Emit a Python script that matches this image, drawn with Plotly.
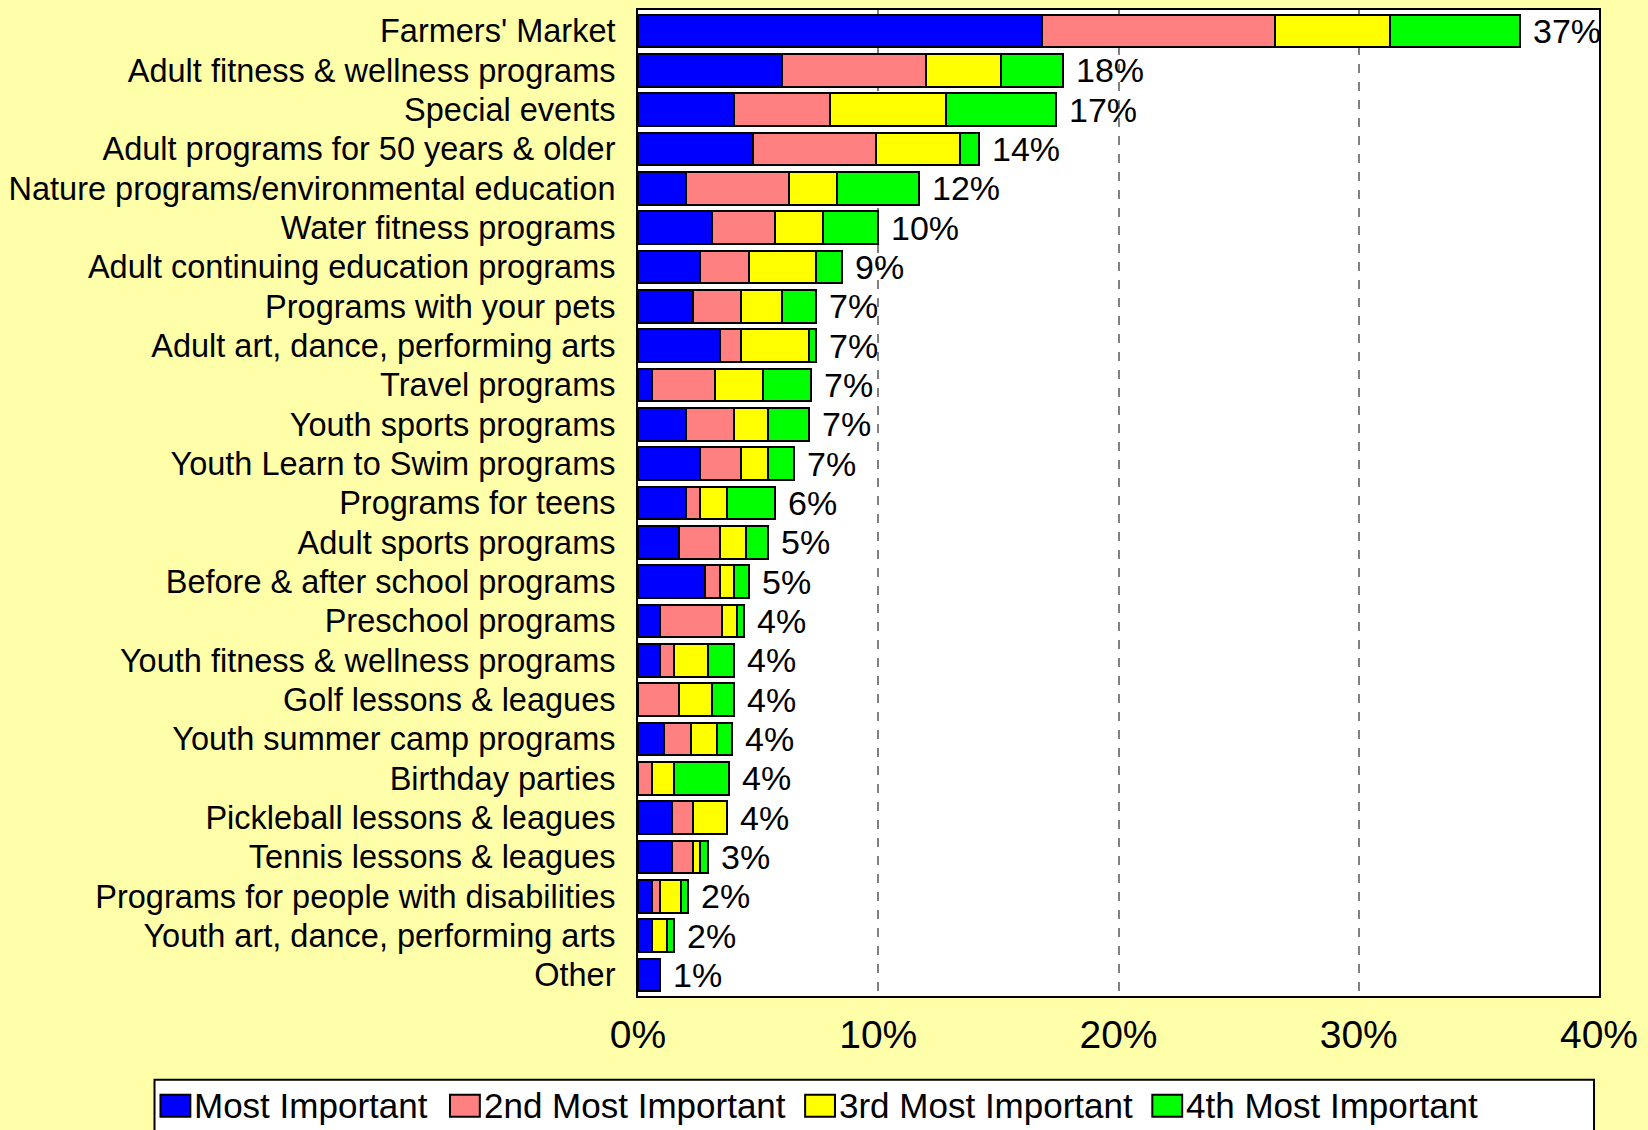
import plotly.graph_objects as go

categories = [
    "Farmers' Market", "Adult fitness & wellness programs", "Special events",
    "Adult programs for 50 years & older", "Nature programs/environmental education",
    "Water fitness programs", "Adult continuing education programs",
    "Programs with your pets", "Adult art, dance, performing arts", "Travel programs",
    "Youth sports programs", "Youth Learn to Swim programs", "Programs for teens",
    "Adult sports programs", "Before & after school programs", "Preschool programs",
    "Youth fitness & wellness programs", "Golf lessons & leagues",
    "Youth summer camp programs", "Birthday parties", "Pickleball lessons & leagues",
    "Tennis lessons & leagues", "Programs for people with disabilities",
    "Youth art, dance, performing arts", "Other",
]
most_important = [16.8, 6.0, 4.0, 4.8, 2.0, 3.1, 2.6, 2.3, 3.4, 0.6, 2.0, 2.6, 2.0,
                  1.7, 2.8, 0.9, 0.9, 0.0, 1.1, 0.0, 1.4, 1.4, 0.6, 0.6, 0.9]
second_most = [9.7, 6.0, 4.0, 5.1, 4.3, 2.6, 2.0, 2.0, 0.9, 2.6, 2.0, 1.7, 0.6,
               1.7, 0.6, 2.6, 0.6, 1.7, 1.1, 0.6, 0.9, 0.9, 0.3, 0.0, 0.0]
third_most = [4.8, 3.1, 4.8, 3.5, 2.0, 2.0, 2.8, 1.7, 2.8, 2.0, 1.4, 1.1, 1.1,
              1.1, 0.6, 0.6, 1.4, 1.4, 1.1, 0.9, 1.4, 0.3, 0.9, 0.6, 0.0]
fourth_most = [5.4, 2.6, 4.6, 0.8, 3.4, 2.3, 1.1, 1.4, 0.3, 2.0, 1.7, 1.1, 2.0,
               0.9, 0.6, 0.3, 1.1, 0.9, 0.6, 2.3, 0.0, 0.3, 0.3, 0.3, 0.0]
total_labels = ["37%", "18%", "17%", "14%", "12%", "10%", "9%", "7%", "7%", "7%",
                "7%", "7%", "6%", "5%", "5%", "4%", "4%", "4%", "4%", "4%", "4%",
                "3%", "2%", "2%", "1%"]
series_names = ["Most Important", "2nd Most Important", "3rd Most Important",
                "4th Most Important"]
tick_values = [0, 10, 20, 30, 40]
tick_labels = ["0%", "10%", "20%", "30%", "40%"]

series_values = [most_important, second_most, third_most, fourth_most]
colors = ["#0000FF", "#FF8080", "#FFFF00", "#00FF00"]
FONT = "Arial, Liberation Sans, sans-serif"

W, H = 1648, 1130
L, R, T, B = 633, 49, 8, 134
PW, PH = W - L - R, H - T - B


def px_x(px):
    return (px - L) / PW


def px_y(py):
    return (H - B - py) / PH


fig = go.Figure()
for name, vals, col in zip(series_names, series_values, colors):
    fig.add_trace(go.Bar(
        y=categories, x=vals, name=name, orientation="h",
        marker=dict(color=col, line=dict(color="black", width=2)),
        showlegend=False,
    ))

totals = [sum(v) for v in zip(*series_values)]
annotations = []
for cat, tot, lab in zip(categories, totals, total_labels):
    annotations.append(dict(
        x=tot, y=cat, xref="x", yref="y", text=lab, showarrow=False,
        xanchor="left", yanchor="middle", xshift=11,
        font=dict(family=FONT, size=34, color="black"),
    ))

# manual legend
shapes = [dict(
    type="rect", xref="paper", yref="paper",
    x0=px_x(147), x1=px_x(1594), y0=px_y(1140), y1=px_y(1080),
    fillcolor="white", line=dict(color="black", width=2), layer="below",
)]
swatch_x = [153, 444, 801, 1150]
for name, col, sx in zip(series_names, colors, swatch_x):
    shapes.append(dict(
        type="rect", xref="paper", yref="paper",
        x0=px_x(sx), x1=px_x(sx + 30), y0=px_y(1117), y1=px_y(1095),
        fillcolor=col, line=dict(color="black", width=2), layer="above",
    ))
    annotations.append(dict(
        x=px_x(sx + 32), y=px_y(1106), xref="paper", yref="paper",
        text=name, showarrow=False, xanchor="left", yanchor="middle",
        font=dict(family=FONT, size=35, color="black"),
    ))

fig.update_layout(
    width=W, height=H,
    margin=dict(l=L, r=R, t=T, b=B, pad=0),
    paper_bgcolor="#FFFFAA", plot_bgcolor="white",
    barmode="stack", bargap=0.17,
    showlegend=False,
    annotations=annotations, shapes=shapes,
    font=dict(family=FONT, color="black"),
)
fig.update_xaxes(
    range=[0, 40], tickvals=tick_values, ticktext=tick_labels,
    showgrid=True, gridcolor="#808080", griddash="dash", gridwidth=1.5,
    showline=True, linecolor="black", linewidth=2, mirror=True,
    ticks="", ticklabelstandoff=3, zeroline=False,
    tickfont=dict(family=FONT, size=39, color="black"),
)
fig.update_yaxes(
    categoryorder="array", categoryarray=categories, autorange="reversed",
    showline=True, linecolor="black", linewidth=2, mirror=True,
    ticks="", ticklabelstandoff=14, showgrid=False,
    tickfont=dict(family=FONT, size=32.5, color="black"),
)

fig.write_html(
    "out.html",
    config={"displayModeBar": False},
    post_script="document.body.style.margin='0';document.body.style.overflow='hidden';",
)
